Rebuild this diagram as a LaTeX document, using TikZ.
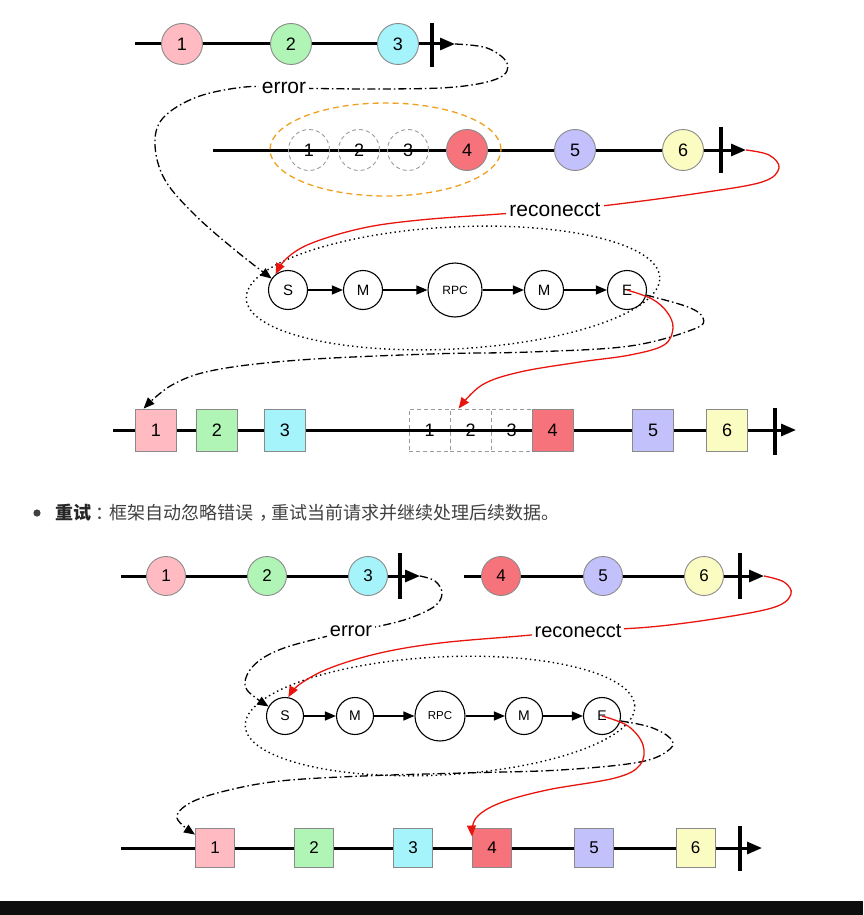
\documentclass[tikz,border=0pt]{standalone}
\usepackage{fontspec}
\setmainfont{Liberation Sans}
\newfontfamily\cjk{Noto Sans CJK SC}
\usetikzlibrary{arrows.meta,calc}
\definecolor{pinkc}{HTML}{FFBBC1}
\definecolor{greenc}{HTML}{B0F5B5}
\definecolor{cyanc}{HTML}{A5F3FB}
\definecolor{redc}{HTML}{F7737B}
\definecolor{purplec}{HTML}{C3C1FC}
\definecolor{yellowc}{HTML}{FBFCC1}
\definecolor{bordc}{HTML}{8A8A8A}
\definecolor{ghostc}{HTML}{9A9A9A}
\definecolor{linkred}{HTML}{E8150F}
\definecolor{orangec}{HTML}{F0A020}
\definecolor{txtc}{HTML}{404040}
\definecolor{bandc}{HTML}{0E0E0E}
\begin{document}
\begin{tikzpicture}[x=1pt,y=-1pt,
  tl/.style={line width=3pt,-{Triangle[length=15pt,width=12pt]}},
  barl/.style={line width=4pt},
  ball/.style={circle,draw=bordc,line width=0.9pt,minimum size=41pt,inner sep=0pt,font=\fontsize{18}{18}\selectfont},
  sball/.style={ball,minimum size=39pt,font=\fontsize{17}{17}\selectfont},
  ghost/.style={circle,draw=ghostc,dashed,dash pattern=on 4pt off 3pt,line width=0.9pt,minimum size=41pt,inner sep=0pt,font=\fontsize{18}{18}\selectfont},
  box/.style={rectangle,draw=bordc,line width=0.9pt,minimum width=41pt,minimum height=42pt,inner sep=0pt,font=\fontsize{18}{18}\selectfont},
  sbox/.style={box,minimum width=39pt,minimum height=39pt,font=\fontsize{17}{17}\selectfont},
  ghostbox/.style={rectangle,draw=ghostc,dash pattern=on 4pt off 3pt,line width=0.9pt,minimum width=41pt,minimum height=42pt,inner sep=0pt,font=\fontsize{18}{18}\selectfont},
  stage/.style={circle,draw=black,fill=white,line width=1.1pt,minimum size=39pt,inner sep=0pt,font=\fontsize{15}{15}\selectfont},
  sstage/.style={stage,minimum size=37pt,font=\fontsize{14}{14}\selectfont},
  chainarrow/.style={line width=1.3pt,-{Triangle[length=11pt,width=9pt]}},
  errlink/.style={line width=1.3pt,dash pattern=on 8pt off 3pt on 1.5pt off 3pt,-{Triangle[length=11pt,width=9pt]}},
  redlink/.style={line width=1.3pt,draw=linkred,-{Triangle[length=11pt,width=9pt]}},
  lbl/.style={fill=white,inner sep=3pt,font=\fontsize{21}{21}\selectfont},
  slbl/.style={lbl,font=\fontsize{20}{20}\selectfont},
  dotell/.style={line width=1.4pt,dash pattern=on 1.4pt off 3.2pt}
]
\useasboundingbox (0,0) rectangle (863,915);

% ================= TOP SECTION =================
% timeline 1
\coordinate (t1s) at (135,44);
\coordinate (t1e) at (455,44);
\draw[tl] (t1s) -- (t1e);
\draw[barl] (432,23) -- (432,67);
\node[ball,fill=pinkc] (a1) at (182,44) {1};
\node[ball,fill=greenc] (a2) at (291,44) {2};
\node[ball,fill=cyanc] (a3) at (398,44) {3};

% timeline 2
\coordinate (t2s) at (213,150);
\coordinate (t2e) at (746,150);
\draw[tl] (t2s) -- (t2e);
\draw[barl] (721,127) -- (721,173);
\node[ghost] (b1) at (309,150) {1};
\node[ghost] (b2) at (359,150) {2};
\node[ghost] (b3) at (408,150) {3};
\node[ball,fill=redc] (b4) at (467,150) {4};
\node[ball,fill=purplec] (b5) at (575,150) {5};
\node[ball,fill=yellowc] (b6) at (683,150) {6};
\draw[orangec,line width=1.3pt,dash pattern=on 6pt off 4pt] (385.5,149.5) ellipse [x radius=115.5pt, y radius=46.5pt];

% chain 1
\draw[dotell,rotate around={3:(453,288)}] (453,288) ellipse [x radius=207pt, y radius=61pt];
\node[stage] (S1) at (288,290) {S};
\node[stage] (M1) at (363,290) {M};
\node[stage,minimum size=54pt,font=\fontsize{12}{12}\selectfont] (R1) at (455,290) {RPC};
\node[stage] (N1) at (544,290) {M};
\node[stage] (E1) at (627,290) {E};
\draw[chainarrow] (S1) -- (M1);
\draw[chainarrow] (M1) -- (R1);
\draw[chainarrow] (R1) -- (N1);
\draw[chainarrow] (N1) -- (E1);

% bottom row 1
\coordinate (t3s) at (113,430);
\coordinate (t3e) at (796,430);
\draw[tl] (t3s) -- (t3e);
\draw[barl] (775,408) -- (775,455);
\node[box,fill=pinkc] (c1) at (156,430) {1};
\node[box,fill=greenc] (c2) at (217,430) {2};
\node[box,fill=cyanc] (c3) at (285,430) {3};
\node[ghostbox] (d1) at (429.5,430) {1};
\node[ghostbox] (d2) at (470.5,430) {2};
\node[ghostbox] (d3) at (511.5,430) {3};
\node[box,fill=redc] (c4) at (552.5,430) {4};
\node[box,fill=purplec] (c5) at (653,430) {5};
\node[box,fill=yellowc] (c6) at (727,430) {6};

% connectors top
\draw[errlink] plot[smooth,tension=0.6] coordinates {(t1e) (487,48) (507,63) (499,78) (455,87) (380,89) (284,88) (245,87) (197,97) (163,118) (155,145) (165,180) (195,215) (235,250) (S1.145)};
\node[lbl] (err1) at (284,88) {error};

\draw[redlink] plot[smooth,tension=0.6] coordinates {(t2e) (769,155) (779,168) (762,182) (700,193) (610,205) (555,210) (500,214) (420,220) (363,228) (312,243) (287,258) (S1.128)};
\node[lbl] (rec1) at (555,210) {reconecct};

\draw[errlink] plot[smooth,tension=0.6] coordinates {(E1.-15) (688,307) (703,318) (694,329) (630,346) (530,352) (430,354) (300,360) (215,370) (172,385) (c1.120)};

\draw[redlink] plot[smooth,tension=0.6] coordinates {(E1.center) (652,299) (667,312) (673,328) (664,345) (630,355) (580,362) (520,372) (482,385) (d2.119)};

% ================= TEXT =================
\fill[txtc] (37,513) circle[radius=3.6pt];
\node[anchor=west,inner sep=0pt,text=txtc,font=\cjk\fontsize{18}{20}\selectfont] (desc) at (55,513) {\textcolor{black!85}{\bfseries 重试}\kern4pt：\kern-4pt框架自动忽略错误\kern6pt，\kern-6pt重试当前请求并继续处理后续数据。};

% ================= BOTTOM SECTION =================
\coordinate (u1s) at (121,576);
\coordinate (u1e) at (420,576);
\draw[tl] (u1s) -- (u1e);
\draw[barl] (400,553) -- (400,599);
\node[sball,fill=pinkc] (f1) at (166,576) {1};
\node[sball,fill=greenc] (f2) at (267,576) {2};
\node[sball,fill=cyanc] (f3) at (368,576) {3};

\coordinate (u2s) at (464,576);
\coordinate (u2e) at (764,576);
\draw[tl] (u2s) -- (u2e);
\draw[barl] (740,553) -- (740,599);
\node[sball,fill=redc] (g4) at (501,576) {4};
\node[sball,fill=purplec] (g5) at (603,576) {5};
\node[sball,fill=yellowc] (g6) at (704,576) {6};

% chain 2
\draw[dotell,rotate around={3:(440,716)}] (440,716) ellipse [x radius=195pt, y radius=59pt];
\node[sstage] (S2) at (285,716) {S};
\node[sstage] (M2) at (355,716) {M};
\node[sstage,minimum size=50pt,font=\fontsize{11.5}{11.5}\selectfont] (R2) at (440,716) {RPC};
\node[sstage] (N2) at (524,716) {M};
\node[sstage] (E2) at (602,716) {E};
\draw[chainarrow] (S2) -- (M2);
\draw[chainarrow] (M2) -- (R2);
\draw[chainarrow] (R2) -- (N2);
\draw[chainarrow] (N2) -- (E2);

% bottom row 2
\coordinate (u3s) at (121,848);
\coordinate (u3e) at (762,848);
\draw[tl] (u3s) -- (u3e);
\draw[barl] (740,826) -- (740,871);
\node[sbox,fill=pinkc] (h1) at (215,848) {1};
\node[sbox,fill=greenc] (h2) at (314,848) {2};
\node[sbox,fill=cyanc] (h3) at (413,848) {3};
\node[sbox,fill=redc] (h4) at (492,848) {4};
\node[sbox,fill=purplec] (h5) at (594,848) {5};
\node[sbox,fill=yellowc] (h6) at (695.5,848) {6};

% connectors bottom
\draw[errlink] plot[smooth,tension=0.6] coordinates {(u1e) (435,581) (442,593) (435,606) (410,618) (380,626) (351,631) (320,638) (284,648) (260,660) (247,675) (247,690) (S2.150)};
\node[slbl] (err2) at (351,631) {error};

\draw[redlink] plot[smooth,tension=0.6] coordinates {(u2e) (784,582) (791,594) (775,607) (720,618) (650,627) (578,631) (520,636) (440,643) (380,653) (330,668) (300,684) (S2.80)};
\node[slbl] (rec2) at (578,631) {reconecct};

\draw[errlink] plot[smooth,tension=0.6] coordinates {(E2.-15) (650,727) (670,738) (670,749) (640,762) (560,770) (463,773) (363,776) (280,781) (225,791) (190,803) (177,818) (h1.146)};

\draw[redlink] plot[smooth,tension=0.6] coordinates {(E2.center) (628,726) (643,745) (640,765) (615,778) (547,790) (500,803) (476,818) (h4.150)};

% bottom band
\fill[bandc] (0,901) rectangle (863,915);
\end{tikzpicture}
\end{document}
